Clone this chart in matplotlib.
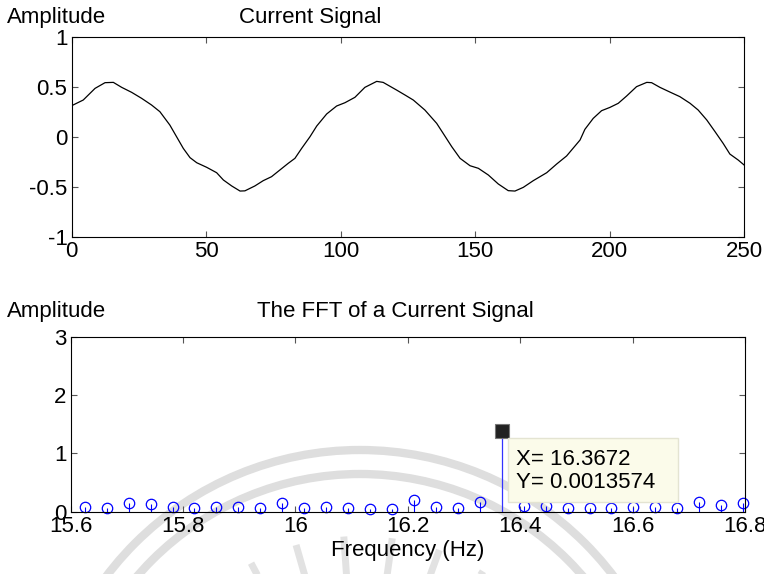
import numpy as np
import matplotlib
matplotlib.use('Agg')
import matplotlib.pyplot as plt
from matplotlib.patches import Circle, Rectangle
from matplotlib.ticker import FormatStrFormatter

plt.rcParams.update({'font.family': ['Liberation Sans', 'DejaVu Sans']})
plt.rcParams.update({'font.size': 16})
plt.rcParams.update({'axes.linewidth': 0.8})

# current signal (sample index, amplitude)
sample = [0, 4.3, 8.7, 12.4, 15.5, 18.6, 22.3, 26.0, 29.7, 32.8, 36.5, 39.0, 41.5,
          44.0, 46.5, 50.2, 53.9, 56.4, 59.5, 62.6, 64.4, 68.1, 71.2, 74.3, 77.4,
          80.5, 83.0, 85.5, 88.6, 91.1, 94.8, 98.5, 101.6, 105.3, 109.0, 113.4,
          115.8, 120.8, 124.0, 127.0, 131.3, 135.7, 138.1, 141.3, 144.4, 148.1,
          151.2, 154.9, 158.6, 162.3, 164.8, 167.9, 171.6, 176.6, 180.3, 184.0,
          186.5, 189.0, 190.8, 193.9, 197.0, 200.1, 203.2, 206.3, 210.0, 213.8,
          215.6, 218.7, 222.4, 226.1, 229.9, 232.9, 236.1, 239.2, 242.2, 244.7,
          247.8, 250.0]
current = [0.314, 0.371, 0.488, 0.545, 0.548, 0.498, 0.448, 0.388, 0.321, 0.254,
           0.12, 0.003, -0.114, -0.207, -0.258, -0.304, -0.358, -0.431, -0.491,
           -0.542, -0.540, -0.491, -0.438, -0.398, -0.331, -0.264, -0.214, -0.114,
           0.003, 0.11, 0.231, 0.311, 0.344, 0.398, 0.498, 0.558, 0.548, 0.471,
           0.42, 0.371, 0.271, 0.137, 0.037, -0.097, -0.214, -0.288, -0.314,
           -0.381, -0.471, -0.538, -0.542, -0.505, -0.438, -0.358, -0.271, -0.19,
           -0.11, -0.03, 0.077, 0.187, 0.264, 0.297, 0.338, 0.411, 0.505, 0.548,
           0.545, 0.498, 0.451, 0.405, 0.338, 0.271, 0.171, 0.053, -0.064, -0.171,
           -0.231, -0.281]

# fft bins shown in the zoomed window
freq = [15.625, 15.6640625, 15.703125, 15.7421875, 15.78125, 15.8203125,
        15.859375, 15.8984375, 15.9375, 15.9765625, 16.015625, 16.0546875,
        16.09375, 16.1328125, 16.171875, 16.2109375, 16.25, 16.2890625,
        16.328125, 16.3671875, 16.40625, 16.4453125, 16.484375, 16.5234375,
        16.5625, 16.6015625, 16.640625, 16.6796875, 16.71875, 16.7578125,
        16.796875]
fft_amp = [0.086, 0.069, 0.144, 0.126, 0.086, 0.069, 0.075, 0.075, 0.069, 0.155,
           0.057, 0.086, 0.063, 0.046, 0.046, 0.20, 0.086, 0.063, 0.172, 0.0013574,
           0.098, 0.098, 0.069, 0.057, 0.063, 0.086, 0.086, 0.057, 0.172, 0.115,
           0.144]

# data tip as it shows in the figure
tip_index = 19
tip_height = 1.38
tip_lines = ['X= 16.3672', 'Y= 0.0013574']


def style_axes(ax):
    ax.set_facecolor('none')
    ax.tick_params(direction='in', top=True, right=True, length=4, width=0.8,
                   color='#555555', pad=3, labelsize=16)
    for s in ax.spines.values():
        s.set_color('black')


fig = plt.figure(figsize=(7.64, 5.74), dpi=100)

# faint watermark behind the plots
wm = fig.add_axes([0, 0, 1, 1], zorder=-1)
wm.set_xlim(0, 764)
wm.set_ylim(574, 0)
wm.axis('off')
for r in (318, 294):
    wm.add_patch(Circle((360, 768), r, fill=False, lw=6, ec='#dedede'))
for ang in np.radians([58, 70, 82, 94, 106, 118]):
    wm.plot([360 + 192 * np.cos(ang), 360 + 232 * np.cos(ang)],
            [768 - 192 * np.sin(ang), 768 - 232 * np.sin(ang)],
            color='#e2e2e2', lw=5, solid_capstyle='butt')

# top: current signal
ax1 = fig.add_axes([0.0938, 0.5876, 0.974 - 0.0938, 0.935 - 0.5876])
ax1.plot(sample, current, color='black', lw=0.9)
ax1.set_xlim(0, 250)
ax1.set_ylim(-1, 1)
ax1.set_xticks(np.arange(0, 251, 50))
ax1.set_yticks([-1, -0.5, 0, 0.5, 1])
ax1.yaxis.set_major_formatter(FormatStrFormatter('%g'))
style_axes(ax1)
fig.text(7 / 764, 1 - 18 / 574, 'Amplitude', ha='left', va='center', fontsize=16)
fig.text(310 / 764, 1 - 18 / 574, 'Current Signal', ha='center', va='center', fontsize=16)

# bottom: fft
ax2 = fig.add_axes([0.0925, 0.1085, 0.975 - 0.0925, 0.4129 - 0.1085])
f_other = [f for i, f in enumerate(freq) if i != tip_index]
a_other = [a for i, a in enumerate(fft_amp) if i != tip_index]
ax2.vlines(f_other, 0, a_other, color='blue', lw=0.8)
ax2.plot(f_other, a_other, 'o', mfc='none', mec='blue', ms=7.5, mew=0.9, clip_on=False)
ax2.vlines(freq[tip_index], 0, tip_height - 0.08, color='#3333ff', lw=0.9)
ax2.plot(freq[tip_index], tip_height, 's', color='#222222', mec='#777777', ms=10, mew=0.8)
ax2.add_patch(Rectangle((16.379, 0.17), 0.302, 1.10, fc='#fbfbea', ec='#e4e4d2', lw=1,
                        zorder=4))
ax2.text(16.392, 0.905, tip_lines[0], ha='left', va='center', fontsize=16, zorder=5)
ax2.text(16.392, 0.51, tip_lines[1], ha='left', va='center', fontsize=16, zorder=5)
ax2.set_xlim(15.6, 16.8)
ax2.set_ylim(0, 3)
ax2.set_xticks(np.arange(15.6, 16.81, 0.2))
ax2.set_yticks([0, 1, 2, 3])
ax2.xaxis.set_major_formatter(FormatStrFormatter('%g'))
style_axes(ax2)
ax2.set_xlabel('Frequency (Hz)', fontsize=16, labelpad=2)
fig.text(7 / 764, 1 - 312 / 574, 'Amplitude', ha='left', va='center', fontsize=16)
fig.text(395 / 764, 1 - 312 / 574, 'The FFT of a Current Signal', ha='center',
         va='center', fontsize=16)

fig.savefig('out.png', dpi=100)
